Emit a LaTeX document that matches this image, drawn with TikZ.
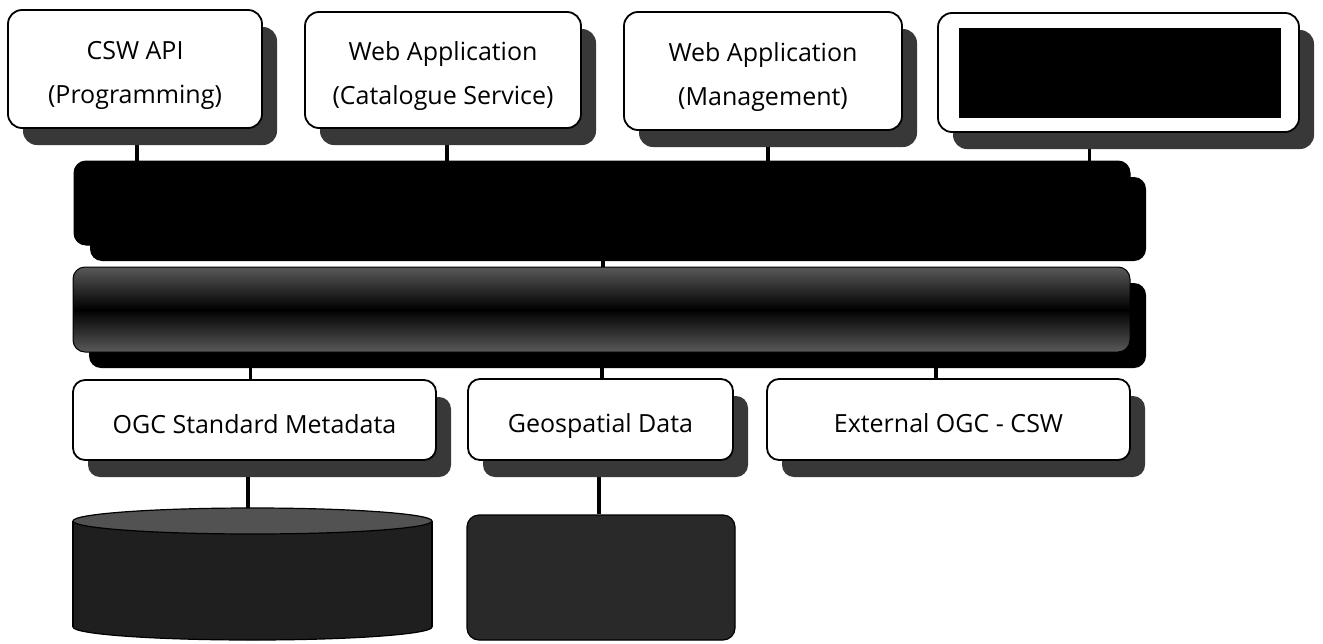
\documentclass[tikz,border=0pt]{standalone}
\usepackage{fontspec}
\setmainfont{Open Sans}
\usetikzlibrary{shadows}
\pgfdeclarelayer{back}
\pgfdeclarelayer{bg}
\pgfsetlayers{back,bg,main}
\begin{document}
\begin{tikzpicture}[x=1pt,y=-1pt,
  box/.style={draw, line width=1.8pt, fill=white, rounded corners=14pt, inner sep=0pt, align=center,
    font=\fontsize{25}{44}\selectfont,
    drop shadow={shadow xshift=15pt, shadow yshift=-17pt, fill=black!78, opacity=1}},
  lowbox/.style={box, rounded corners=12pt, text height=26pt, text depth=0pt},
  txt/.style={inner sep=0pt, align=center, font=\fontsize{25}{44}\selectfont},
  bar/.style={draw=black, line width=1pt, rounded corners=12pt, inner sep=0pt,
    drop shadow={shadow xshift=16pt, shadow yshift=-16pt, fill=black, opacity=1}},
  conn/.style={line width=3.6pt}]
\begin{pgfonlayer}{back}
\fill[white] (0,0) rectangle (1323,643);
\end{pgfonlayer}
\useasboundingbox (0,0) rectangle (1323,643);

% top row
\node[box, minimum width=254pt, minimum height=118pt] (csw) at (135,69) {};
\node[txt] (cswt) at ([yshift=-6pt]csw.center) {CSW API\\(Programming)};
\node[box, minimum width=276pt, minimum height=116pt] (webcat) at (443,70) {};
\node[txt] (webcatt) at ([yshift=-6pt]webcat.center) {Web Application\\(Catalogue Service)};
\node[box, minimum width=278pt, minimum height=118pt] (webman) at (763,71) {};
\node[txt] (webmant) at ([yshift=-6pt]webman.center) {Web Application\\(Management)};
\node[box, minimum width=361pt, minimum height=119pt] (blank) at (1118.5,72.5) {};
\node[fill=black, minimum width=322pt, minimum height=90pt, inner sep=0pt] (redact) at (1120,73) {};

% bars
\node[bar, fill=black, minimum width=1056pt, minimum height=84pt] (bar1) at (602,203) {};
\node[bar, top color=black!65, bottom color=black!65, middle color=black,
      minimum width=1057pt, minimum height=85pt] (bar2) at (601.5,309.5) {};

% bottom row
\node[lowbox, minimum width=363pt, minimum height=80pt] (ogc) at (254.5,420) {OGC Standard Metadata};
\node[lowbox, minimum width=265pt, minimum height=81pt] (geo) at (600.5,419.5) {Geospatial Data};
\node[lowbox, minimum width=363pt, minimum height=81pt] (ext) at (948.5,419.5) {External OGC - CSW};

% database cylinder
\fill[black!88] (73,521) rectangle (432,627);
\filldraw[fill=black!88, draw=black, line width=1.2pt] (252.5,627) ellipse [x radius=179.5pt, y radius=13pt];
\fill[black!88] (74,521) rectangle (431,627);
\draw[line width=1.2pt] (73,521) -- (73,627) (432,521) -- (432,627);
\filldraw[fill=black!68, draw=black, line width=1.2pt] (252.5,521) ellipse [x radius=179.5pt, y radius=13pt];
\coordinate (cyltop) at (248,508);

% data store
\node[draw, line width=1.2pt, fill=black!84, rounded corners=12pt, inner sep=0pt,
      minimum width=268pt, minimum height=125pt] (db) at (601,577.5) {};

\begin{pgfonlayer}{bg}
\draw[conn] ([xshift=2pt]csw.south) -- ([xshift=2pt]csw.south |- bar1.north);
\draw[conn] ([xshift=4pt]webcat.south) -- ([xshift=4pt]webcat.south |- bar1.north);
\draw[conn] ([xshift=5pt]webman.south) -- ([xshift=5pt]webman.south |- bar1.north);
\draw[conn] ([xshift=-29pt]blank.south) -- ([xshift=-29pt]blank.south |- bar1.north);
\draw[conn] ([xshift=1pt]bar1.south) -- ([xshift=1pt]bar1.south |- bar2.north);
\draw[conn] ([xshift=-4pt]ogc.north) -- ([xshift=-4pt]ogc.north |- bar2.south);
\draw[conn] ([xshift=1.5pt]geo.north) -- ([xshift=1.5pt]geo.north |- bar2.south);
\draw[conn] ([xshift=-12.5pt]ext.north) -- ([xshift=-12.5pt]ext.north |- bar2.south);
\draw[conn] (ogc.south -| cyltop) -- (cyltop);
\draw[conn] ([xshift=-1.5pt]geo.south) -- ([xshift=-1.5pt]geo.south |- db.north);
\end{pgfonlayer}
\end{tikzpicture}
\end{document}
